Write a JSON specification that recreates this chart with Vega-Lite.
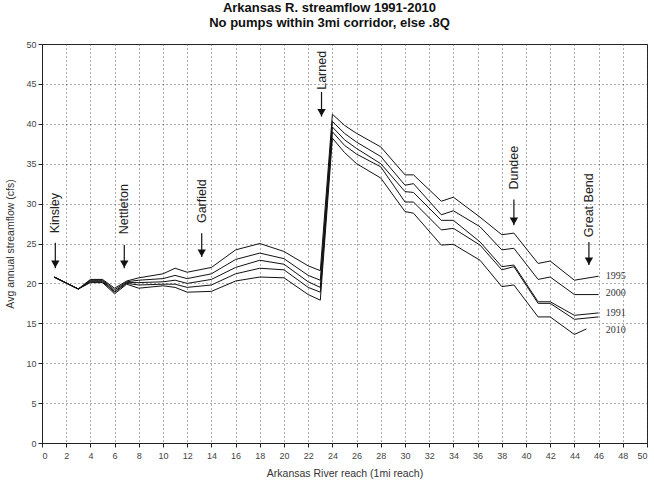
{
  "$schema": "https://vega.github.io/schema/vega-lite/v6.json",
  "autosize": "none",
  "width": 605,
  "height": 399,
  "padding": {"left": 42, "top": 44, "right": 7, "bottom": 41},
  "background": "white",
  "title": {
    "text": ["Arkansas R. streamflow 1991-2010", "No pumps within 3mi corridor, else .8Q"],
    "font": "Liberation Sans",
    "fontSize": 13,
    "fontWeight": "bold",
    "color": "#111",
    "anchor": "middle",
    "dx": -15,
    "offset": 10,
    "lineHeight": 15
  },
  "config": {
    "view": {"stroke": "#222", "strokeWidth": 1},
    "axis": {
      "labelFont": "Liberation Sans",
      "labelFontSize": 9,
      "labelColor": "#444",
      "labelOverlap": false,
      "titleFont": "Liberation Sans",
      "titleFontSize": 10.5,
      "titleFontWeight": "normal",
      "titleColor": "#333",
      "domainColor": "#222",
      "tickColor": "#222",
      "tickSize": 4,
      "gridColor": "#333",
      "gridDash": [1, 3],
      "gridWidth": 1,
      "gridOpacity": 0.8
    }
  },
  "datasets": {
    "flow": [
      {"series": "1995", "x": 1, "y": 20.8}, {"series": "1995", "x": 3, "y": 19.3}, {"series": "1995", "x": 4, "y": 20.5}, {"series": "1995", "x": 5, "y": 20.5}, {"series": "1995", "x": 6, "y": 19.4}, {"series": "1995", "x": 7, "y": 20.3}, {"series": "1995", "x": 8, "y": 20.7}, {"series": "1995", "x": 10, "y": 21.2}, {"series": "1995", "x": 11, "y": 21.9}, {"series": "1995", "x": 12, "y": 21.4}, {"series": "1995", "x": 14, "y": 22.0}, {"series": "1995", "x": 16, "y": 24.2}, {"series": "1995", "x": 18, "y": 25.0}, {"series": "1995", "x": 20, "y": 24.0}, {"series": "1995", "x": 22, "y": 22.2}, {"series": "1995", "x": 23, "y": 21.6}, {"series": "1995", "x": 24, "y": 41.2}, {"series": "1995", "x": 25, "y": 39.8}, {"series": "1995", "x": 26, "y": 38.8}, {"series": "1995", "x": 28, "y": 37.1}, {"series": "1995", "x": 30, "y": 33.6}, {"series": "1995", "x": 30.7, "y": 33.6}, {"series": "1995", "x": 33, "y": 30.3}, {"series": "1995", "x": 34, "y": 30.8}, {"series": "1995", "x": 36.2, "y": 28.3}, {"series": "1995", "x": 38, "y": 26.1}, {"series": "1995", "x": 39, "y": 26.3}, {"series": "1995", "x": 41, "y": 22.5}, {"series": "1995", "x": 42, "y": 22.8}, {"series": "1995", "x": 44, "y": 20.4}, {"series": "1995", "x": 46, "y": 20.9},
      {"series": "2000", "x": 1, "y": 20.8}, {"series": "2000", "x": 3, "y": 19.3}, {"series": "2000", "x": 4, "y": 20.4}, {"series": "2000", "x": 5, "y": 20.4}, {"series": "2000", "x": 6, "y": 19.2}, {"series": "2000", "x": 7, "y": 20.2}, {"series": "2000", "x": 8, "y": 20.4}, {"series": "2000", "x": 10, "y": 20.6}, {"series": "2000", "x": 11, "y": 21.0}, {"series": "2000", "x": 12, "y": 20.6}, {"series": "2000", "x": 14, "y": 21.2}, {"series": "2000", "x": 16, "y": 23.0}, {"series": "2000", "x": 18, "y": 23.8}, {"series": "2000", "x": 20, "y": 23.1}, {"series": "2000", "x": 22, "y": 21.0}, {"series": "2000", "x": 23, "y": 20.4}, {"series": "2000", "x": 24, "y": 40.3}, {"series": "2000", "x": 25, "y": 38.8}, {"series": "2000", "x": 26, "y": 37.7}, {"series": "2000", "x": 28, "y": 35.9}, {"series": "2000", "x": 30, "y": 32.3}, {"series": "2000", "x": 30.7, "y": 32.5}, {"series": "2000", "x": 33, "y": 28.6}, {"series": "2000", "x": 34, "y": 29.1}, {"series": "2000", "x": 36.2, "y": 27.1}, {"series": "2000", "x": 38, "y": 24.2}, {"series": "2000", "x": 39, "y": 24.4}, {"series": "2000", "x": 41, "y": 20.5}, {"series": "2000", "x": 42, "y": 20.8}, {"series": "2000", "x": 44, "y": 18.6}, {"series": "2000", "x": 46, "y": 18.6},
      {"series": "1991", "x": 1, "y": 20.8}, {"series": "1991", "x": 3, "y": 19.3}, {"series": "1991", "x": 4, "y": 20.3}, {"series": "1991", "x": 5, "y": 20.3}, {"series": "1991", "x": 6, "y": 19.0}, {"series": "1991", "x": 7, "y": 20.1}, {"series": "1991", "x": 8, "y": 20.1}, {"series": "1991", "x": 10, "y": 20.2}, {"series": "1991", "x": 11, "y": 20.4}, {"series": "1991", "x": 12, "y": 20.0}, {"series": "1991", "x": 14, "y": 20.5}, {"series": "1991", "x": 16, "y": 22.0}, {"series": "1991", "x": 18, "y": 22.9}, {"series": "1991", "x": 20, "y": 22.4}, {"series": "1991", "x": 22, "y": 20.2}, {"series": "1991", "x": 23, "y": 19.5}, {"series": "1991", "x": 24, "y": 39.6}, {"series": "1991", "x": 25, "y": 38.0}, {"series": "1991", "x": 26, "y": 36.9}, {"series": "1991", "x": 28, "y": 35.0}, {"series": "1991", "x": 30, "y": 31.5}, {"series": "1991", "x": 30.7, "y": 31.4}, {"series": "1991", "x": 33, "y": 27.9}, {"series": "1991", "x": 34, "y": 27.9}, {"series": "1991", "x": 36.2, "y": 25.2}, {"series": "1991", "x": 38, "y": 22.1}, {"series": "1991", "x": 39, "y": 22.3}, {"series": "1991", "x": 41, "y": 17.7}, {"series": "1991", "x": 42, "y": 17.7}, {"series": "1991", "x": 44, "y": 16.0}, {"series": "1991", "x": 46, "y": 16.3},
      {"series": "2005", "x": 1, "y": 20.8}, {"series": "2005", "x": 3, "y": 19.3}, {"series": "2005", "x": 4, "y": 20.2}, {"series": "2005", "x": 5, "y": 20.2}, {"series": "2005", "x": 6, "y": 18.9}, {"series": "2005", "x": 7, "y": 20.0}, {"series": "2005", "x": 8, "y": 19.8}, {"series": "2005", "x": 10, "y": 19.9}, {"series": "2005", "x": 11, "y": 19.9}, {"series": "2005", "x": 12, "y": 19.5}, {"series": "2005", "x": 14, "y": 19.8}, {"series": "2005", "x": 16, "y": 21.2}, {"series": "2005", "x": 18, "y": 21.9}, {"series": "2005", "x": 20, "y": 21.7}, {"series": "2005", "x": 22, "y": 19.5}, {"series": "2005", "x": 23, "y": 18.9}, {"series": "2005", "x": 24, "y": 39.0}, {"series": "2005", "x": 25, "y": 37.3}, {"series": "2005", "x": 26, "y": 36.2}, {"series": "2005", "x": 28, "y": 34.6}, {"series": "2005", "x": 30, "y": 30.2}, {"series": "2005", "x": 30.7, "y": 30.2}, {"series": "2005", "x": 33, "y": 26.7}, {"series": "2005", "x": 34, "y": 26.9}, {"series": "2005", "x": 36.2, "y": 24.8}, {"series": "2005", "x": 38, "y": 21.7}, {"series": "2005", "x": 39, "y": 22.1}, {"series": "2005", "x": 41, "y": 17.5}, {"series": "2005", "x": 42, "y": 17.5}, {"series": "2005", "x": 44, "y": 15.5}, {"series": "2005", "x": 46, "y": 15.8},
      {"series": "2010", "x": 1, "y": 20.8}, {"series": "2010", "x": 3, "y": 19.3}, {"series": "2010", "x": 4, "y": 20.1}, {"series": "2010", "x": 5, "y": 20.1}, {"series": "2010", "x": 6, "y": 18.7}, {"series": "2010", "x": 7, "y": 19.9}, {"series": "2010", "x": 8, "y": 19.4}, {"series": "2010", "x": 10, "y": 19.7}, {"series": "2010", "x": 11, "y": 19.5}, {"series": "2010", "x": 12, "y": 18.9}, {"series": "2010", "x": 14, "y": 19.0}, {"series": "2010", "x": 16, "y": 20.3}, {"series": "2010", "x": 18, "y": 20.8}, {"series": "2010", "x": 20, "y": 20.7}, {"series": "2010", "x": 22, "y": 18.6}, {"series": "2010", "x": 23, "y": 17.9}, {"series": "2010", "x": 24, "y": 38.2}, {"series": "2010", "x": 25, "y": 36.4}, {"series": "2010", "x": 26, "y": 35.0}, {"series": "2010", "x": 28, "y": 33.2}, {"series": "2010", "x": 30, "y": 29.0}, {"series": "2010", "x": 30.7, "y": 28.8}, {"series": "2010", "x": 33, "y": 24.8}, {"series": "2010", "x": 34, "y": 24.9}, {"series": "2010", "x": 36.2, "y": 22.9}, {"series": "2010", "x": 38, "y": 19.6}, {"series": "2010", "x": 39, "y": 19.8}, {"series": "2010", "x": 41, "y": 15.8}, {"series": "2010", "x": 42, "y": 15.8}, {"series": "2010", "x": 44, "y": 13.6}, {"series": "2010", "x": 45, "y": 14.3}
    ],
    "seriesLabels": [
      {"label": "1995", "x": 46.6, "y": 20.9},
      {"label": "2000", "x": 46.6, "y": 18.8},
      {"label": "1991", "x": 46.6, "y": 16.3},
      {"label": "2010", "x": 46.6, "y": 14.2}
    ],
    "places": [
      {"name": "Kinsley", "x": 1.1, "top": 25.1, "tip": 21.9, "text": 28.8},
      {"name": "Nettleton", "x": 6.8, "top": 24.8, "tip": 21.9, "text": 29.3},
      {"name": "Garfield", "x": 13.2, "top": 26.3, "tip": 23.3, "text": 30.3},
      {"name": "Larned", "x": 23.1, "top": 44.0, "tip": 40.9, "text": 46.7},
      {"name": "Dundee", "x": 39.0, "top": 30.5, "tip": 27.3, "text": 34.5},
      {"name": "Great Bend", "x": 45.2, "top": 25.2, "tip": 22.3, "text": 29.8}
    ]
  },
  "layer": [
    {
      "data": {"name": "flow"},
      "mark": {"type": "line", "color": "#111", "strokeWidth": 1},
      "encoding": {
        "x": {
          "field": "x", "type": "quantitative",
          "scale": {"domain": [0, 50], "nice": false},
          "axis": {"values": [0,2,4,6,8,10,12,14,16,18,20,22,24,26,28,30,32,34,36,38,40,42,44,46,48,50], "title": "Arkansas River reach (1mi reach)", "titlePadding": 8, "labelPadding": 4}
        },
        "y": {
          "field": "y", "type": "quantitative",
          "scale": {"domain": [0, 50], "nice": false},
          "axis": {"values": [0,5,10,15,20,25,30,35,40,45,50], "title": "Avg annual streamflow (cfs)", "titlePadding": 10, "labelPadding": 2}
        },
        "detail": {"field": "series", "type": "nominal"}
      }
    },
    {
      "data": {"name": "seriesLabels"},
      "mark": {"type": "text", "align": "left", "baseline": "middle", "font": "Liberation Serif", "fontSize": 10, "color": "#333"},
      "encoding": {
        "x": {"field": "x", "type": "quantitative", "axis": {"values": [0,2,4,6,8,10,12,14,16,18,20,22,24,26,28,30,32,34,36,38,40,42,44,46,48,50], "title": "Arkansas River reach (1mi reach)", "titlePadding": 8, "labelPadding": 4}},
        "y": {"field": "y", "type": "quantitative", "axis": {"values": [0,5,10,15,20,25,30,35,40,45,50], "title": "Avg annual streamflow (cfs)", "titlePadding": 10, "labelPadding": 2}},
        "text": {"field": "label"}
      }
    },
    {
      "data": {"name": "places"},
      "mark": {"type": "rule", "color": "#111", "strokeWidth": 1.2},
      "encoding": {
        "x": {"field": "x", "type": "quantitative", "axis": {"values": [0,2,4,6,8,10,12,14,16,18,20,22,24,26,28,30,32,34,36,38,40,42,44,46,48,50], "title": "Arkansas River reach (1mi reach)", "titlePadding": 8, "labelPadding": 4}},
        "y": {"field": "top", "type": "quantitative", "axis": {"values": [0,5,10,15,20,25,30,35,40,45,50], "title": "Avg annual streamflow (cfs)", "titlePadding": 10, "labelPadding": 2}},
        "y2": {"field": "tip"}
      }
    },
    {
      "data": {"name": "places"},
      "mark": {"type": "point", "shape": "triangle-down", "filled": true, "color": "#111", "size": 70, "opacity": 1, "yOffset": -4},
      "encoding": {
        "x": {"field": "x", "type": "quantitative", "axis": {"values": [0,2,4,6,8,10,12,14,16,18,20,22,24,26,28,30,32,34,36,38,40,42,44,46,48,50], "title": "Arkansas River reach (1mi reach)", "titlePadding": 8, "labelPadding": 4}},
        "y": {"field": "tip", "type": "quantitative", "axis": {"values": [0,5,10,15,20,25,30,35,40,45,50], "title": "Avg annual streamflow (cfs)", "titlePadding": 10, "labelPadding": 2}}
      }
    },
    {
      "data": {"name": "places"},
      "mark": {"type": "text", "angle": 270, "align": "center", "baseline": "middle", "font": "Liberation Sans", "fontSize": 12.5, "color": "#222"},
      "encoding": {
        "x": {"field": "x", "type": "quantitative", "axis": {"values": [0,2,4,6,8,10,12,14,16,18,20,22,24,26,28,30,32,34,36,38,40,42,44,46,48,50], "title": "Arkansas River reach (1mi reach)", "titlePadding": 8, "labelPadding": 4}},
        "y": {"field": "text", "type": "quantitative", "axis": {"values": [0,5,10,15,20,25,30,35,40,45,50], "title": "Avg annual streamflow (cfs)", "titlePadding": 10, "labelPadding": 2}},
        "text": {"field": "name"}
      }
    }
  ]
}
